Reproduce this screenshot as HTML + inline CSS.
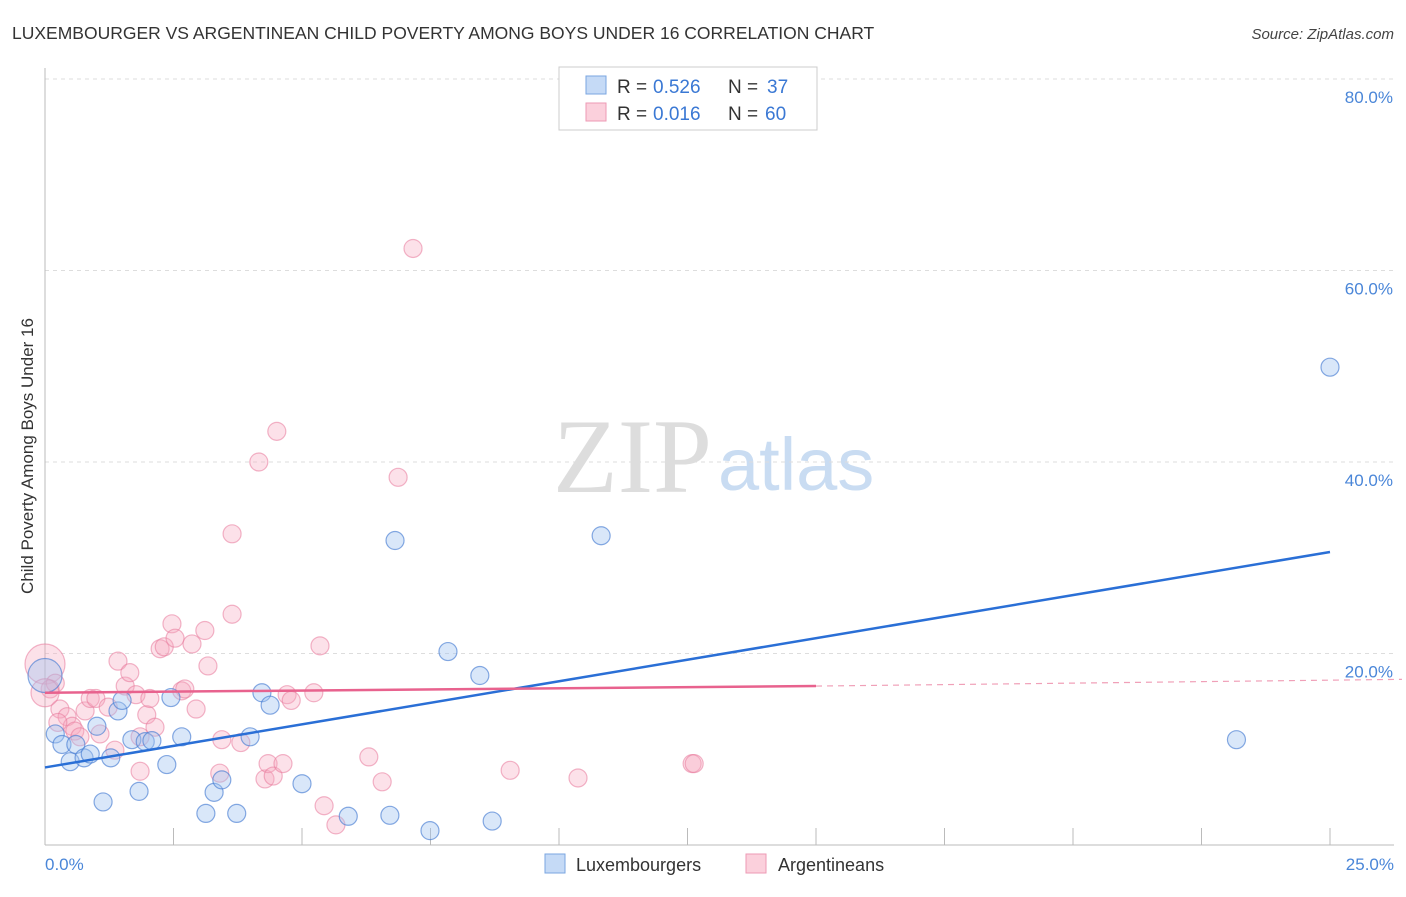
<!DOCTYPE html>
<html><head><meta charset="utf-8"><style>
body{margin:0;background:#fff;font-family:"Liberation Sans",sans-serif;}
</style></head><body>
<svg width="1406" height="892" xmlns="http://www.w3.org/2000/svg" font-family="Liberation Sans, sans-serif">
<text x="12" y="39" font-size="17.5" fill="#333">LUXEMBOURGER VS ARGENTINEAN CHILD POVERTY AMONG BOYS UNDER 16 CORRELATION CHART</text>
<text x="1394" y="39" font-size="15" fill="#444" text-anchor="end" font-style="italic">Source: ZipAtlas.com</text>
<text x="553" y="492" font-size="106" fill="#ddd" font-family="Liberation Serif, serif">ZIP</text>
<text x="718" y="490" font-size="74" fill="#c9dcf2">atlas</text>
<g id="grid"></g>
<line x1="45" y1="68" x2="45" y2="845" stroke="#bbb"/>
<line x1="45" y1="845" x2="1394" y2="845" stroke="#bbb"/>
<text transform="translate(33,456) rotate(-90)" font-size="17" fill="#333" text-anchor="middle">Child Poverty Among Boys Under 16</text>
<text x="45" y="870" font-size="17" fill="#4a86d8">0.0%</text>
<text x="1394" y="870" font-size="17" fill="#4a86d8" text-anchor="end">25.0%</text>
<g id="pts"></g>
<g id="lines"></g>
<g>
<rect x="559" y="67" width="258" height="63" fill="#fff" stroke="#ccc"/>
<rect x="586" y="76" width="20" height="18" fill="#c5daf6" stroke="#7aa6e0"/>
<rect x="586" y="103" width="20" height="18" fill="#fbd0dc" stroke="#ee9ab4"/>
<text x="617" y="93" font-size="19" fill="#333">R =</text>
<text x="653" y="93" font-size="19" fill="#3a78d4">0.526</text>
<text x="728" y="93" font-size="19" fill="#333">N =</text>
<text x="767" y="93" font-size="19" fill="#3a78d4">37</text>
<text x="617" y="120" font-size="19" fill="#333">R =</text>
<text x="653" y="120" font-size="19" fill="#3a78d4">0.016</text>
<text x="728" y="120" font-size="19" fill="#333">N =</text>
<text x="765" y="120" font-size="19" fill="#3a78d4">60</text>
</g>
<g>
<rect x="545" y="854" width="20" height="19" fill="#c5daf6" stroke="#7aa6e0"/>
<text x="576" y="871" font-size="18" fill="#333">Luxembourgers</text>
<rect x="746" y="854" width="20" height="19" fill="#fbd0dc" stroke="#ee9ab4"/>
<text x="778" y="871" font-size="18" fill="#333">Argentineans</text>
</g>
</svg>
<script>
const yTicks=[20,40,60,80];
const xTicks=[0,2.5,5,7.5,10,12.5,15,17.5,20,22.5,25];
const luxX=[0,0.2,0.33,0.49,0.6,0.76,0.88,1.01,1.13,1.28,1.42,1.5,1.69,1.83,1.95,2.08,2.37,2.45,2.66,3.13,3.29,3.44,3.73,3.99,4.22,4.38,5.0,5.9,6.71,6.81,7.49,7.84,8.46,8.7,10.82,23.18,25.0];
const luxY=[17.7,11.6,10.5,8.7,10.5,9.1,9.5,12.4,4.5,9.1,14.0,15.1,11.0,5.6,10.8,10.9,8.4,15.4,11.3,3.3,5.5,6.8,3.3,11.3,15.9,14.6,6.4,3.0,3.1,31.8,1.5,20.2,17.7,2.5,32.3,11.0,49.9];
const argX=[0,0.1,0.2,0.29,0.43,0.53,0.58,0.68,0.78,0.88,0.99,1.07,1.23,1.36,1.42,1.56,1.65,1.77,1.85,1.98,2.04,2.14,2.24,2.32,2.47,2.53,2.66,2.72,2.86,2.94,3.11,3.17,3.44,3.4,3.64,3.81,3.64,4.16,4.28,4.34,4.44,4.51,4.63,4.71,4.79,5.23,5.35,5.43,5.66,6.3,6.56,6.87,7.16,9.05,10.37,12.59,12.63,0,0.25,1.85];
const argY=[18.9,16.3,16.9,14.2,13.4,12.4,11.9,11.3,14.0,15.3,15.3,11.6,14.4,9.9,19.2,16.6,18.0,15.7,11.3,13.6,15.3,12.3,20.5,20.7,23.1,21.6,16.1,16.3,21.0,14.2,22.4,18.7,11.0,7.5,32.5,10.7,24.1,40.0,6.9,8.5,7.2,43.2,8.5,15.7,15.1,15.9,20.8,4.1,2.1,9.2,6.6,38.4,62.3,7.8,7.0,8.5,8.5,15.9,12.8,7.7];
const luxTrend=[[0,8.1],[25,30.6]];
const argTrend=[[0,15.9],[15,16.6],[26.4,17.3]];
const X=v=>45+v*51.4, Y=v=>845-v*9.575;
const NS='http://www.w3.org/2000/svg';
const mk=(t,a,p)=>{const e=document.createElementNS(NS,t);for(const k in a)e.setAttribute(k,a[k]);p.appendChild(e);return e;};
const grid=document.getElementById('grid');
yTicks.forEach(t=>{
 const l=mk('line',{x1:45,x2:1394,y1:Y(t),y2:Y(t),stroke:'#ddd','stroke-dasharray':'4,4'},grid);
 
 
 const tx=mk('text',{x:1393,y:Y(t)+24,'font-size':17,fill:'#4a86d8','text-anchor':'end'},grid);
 tx.textContent=t.toFixed(1)+'%';
 
 
});
xTicks.forEach(t=>{
 const l=mk('line',{x1:X(t),x2:X(t),y1:828,y2:845,stroke:'#bbb'},grid);
 
 
});
const pts=document.getElementById('pts');
argX.forEach((v,i)=>{
 const c=mk('circle',{cx:X(v),cy:Y(argY[i]),r:i==0?20:(i==57?14:9),fill:'rgba(246,170,192,0.35)',stroke:'rgba(232,120,155,0.55)','stroke-width':1.2},pts);
 
 
});
luxX.forEach((v,i)=>{
 const c=mk('circle',{cx:X(v),cy:Y(luxY[i]),r:i==0?17:9,fill:'rgba(160,195,240,0.4)',stroke:'rgba(70,125,210,0.65)','stroke-width':1.2},pts);
 
 
});
const lines=document.getElementById('lines');
const lt=mk('line',{x1:X(luxTrend[0][0]),y1:Y(luxTrend[0][1]),x2:X(luxTrend[1][0]),y2:Y(luxTrend[1][1]),stroke:'#2a6fd6','stroke-width':2.5},lines);


const at=mk('line',{x1:X(argTrend[0][0]),y1:Y(argTrend[0][1]),x2:X(argTrend[1][0]),y2:Y(argTrend[1][1]),stroke:'#e8628e','stroke-width':2.5},lines);


const ad=mk('line',{x1:X(argTrend[1][0]),y1:Y(argTrend[1][1]),x2:X(argTrend[2][0]),y2:Y(argTrend[2][1]),stroke:'#f0a0b8','stroke-width':1.2,'stroke-dasharray':'6,5'},lines);


</script>
</body></html>
